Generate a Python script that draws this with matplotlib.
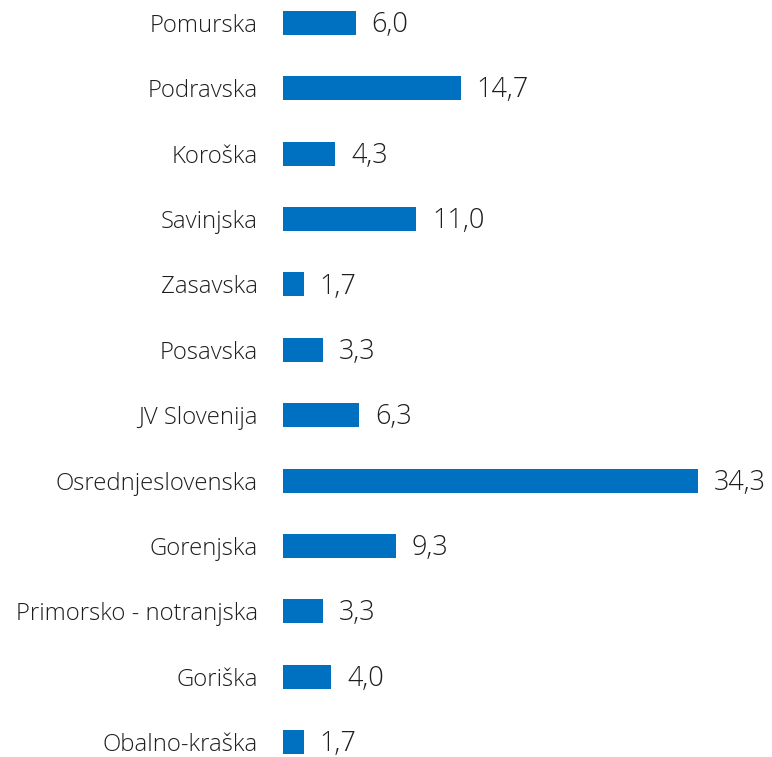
import matplotlib.pyplot as plt
import numpy as np

regions = ['Pomurska', 'Podravska', 'Koroška', 'Savinjska', 'Zasavska',
           'Posavska', 'JV Slovenija', 'Osrednjeslovenska', 'Gorenjska',
           'Primorsko - notranjska', 'Goriška', 'Obalno-kraška']
shares = [6.0, 14.7, 4.3, 11.0, 1.7, 3.3, 6.3, 34.3, 9.3, 3.3, 4.0, 1.7]

plt.rcParams['font.family'] = ['Open Sans', 'DejaVu Sans']
text_color = '#1e1e1e'

fig = plt.figure(figsize=(7.72, 7.57), dpi=100)
ax = fig.add_axes([283 / 772, 0.0025, 415 / 772, 0.9844])

y = np.arange(len(regions))
bars = ax.barh(y, shares, height=0.367, color='#0070C0')

ax.set_xlim(0, max(shares))
ax.set_ylim(11.2, -0.2)
ax.set_yticks(y)
ax.set_yticklabels(regions, fontsize=17.2, color=text_color, fontweight='light')
ax.tick_params(axis='y', length=0, pad=18)
ax.set_xticks([])
for side in ax.spines.values():
    side.set_visible(False)

labels = ax.bar_label(bars, labels=[f'{v:.1f}'.replace('.', ',') for v in shares],
                      padding=11.5, fontsize=19.5, color=text_color, fontweight='light')
for t in labels:
    t.set_clip_on(False)
    t.set_va('center')
    # nudge the numbers down a touch so the digits sit on the bar's middle
    dx, dy = t.xyann
    t.xyann = (dx, dy - 1.5)

fig.savefig('out.png', dpi=100)
